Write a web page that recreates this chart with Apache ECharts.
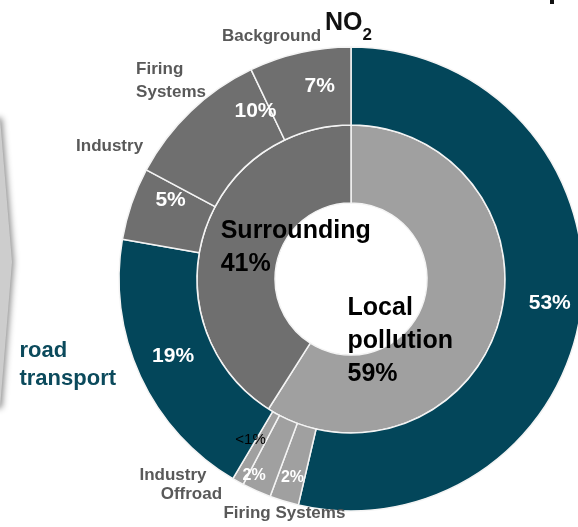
<!DOCTYPE html>
<html>
<head>
<meta charset="utf-8">
<script src="https://cdn.jsdelivr.net/npm/echarts@6/dist/echarts.min.js"></script>
<style>
  html, body { margin: 0; padding: 0; background: #ffffff; }
  #chart { width: 578px; height: 527px; }
</style>
</head>
<body>
<div id="chart"></div>
<script>
// NO2 source apportionment: local vs. surrounding pollution (inner ring)
const splitNames = ['Local\npollution', 'Surrounding'];
const splitValues = [59, 41];

// Individual sources, clockwise from 12 o'clock (outer ring)
const sourceNames = ['road\ntransport', 'Firing Systems', 'Offroad', 'Industry',
                     'road\ntransport', 'Industry', 'Firing\nSystems', 'Background'];
const sourceValues = [53, 2, 2, 0.8, 19, 5, 10, 7];
const sourceGroups = ['road', 'local', 'local', 'local', 'road', 'surr', 'surr', 'surr'];
const sourceNameShown = [false, true, true, true, true, true, true, true];

const TEAL = '#03465a';
const DARK = '#6f6f6f';
const LIGHT = '#a0a0a0';
const FONT = '"Liberation Sans", Arial, Helvetica, sans-serif';
const groupColor = { road: TEAL, local: LIGHT, surr: DARK };
const CENTER = [351, 279];

// label nudges (dx, dy) from the default in-sector anchor
const splitShift = [[-64, 29], [58, 2]];
const pctShift = [[4, 2], [-2, 11], [-17, 18], [-5, -10], [0, -5], [5, -15], [40, -26], [12, -2]];
const nameShift = [[0, 0], [11, -23], [-50, -30], [-47, -39], [-39, -27], [13, -45], [6, -4], [-20, 20]];

// wrap every line in a left-aligned rich style
function leftLines(text, style) {
  return text.split('\n').map(s => '{' + style + '|' + s + '}').join('\n');
}

const chart = echarts.init(document.getElementById('chart'));

const innerData = splitNames.map((n, i) => ({
  name: n,
  value: splitValues[i],
  itemStyle: { color: i === 0 ? LIGHT : DARK }
}));

const outerData = sourceNames.map((n, i) => ({
  name: n,
  value: sourceValues[i],
  itemStyle: { color: groupColor[sourceGroups[i]] }
}));

const nameData = sourceNames.map((n, i) => ({
  name: n,
  value: sourceValues[i],
  label: { show: sourceNameShown[i] }
}));

chart.setOption({
  animation: false,
  backgroundColor: '#ffffff',
  title: {
    text: '{n|NO}{s|2}',
    left: 325,
    top: 11,
    padding: 0,
    textStyle: {
      rich: {
        n: { fontFamily: FONT, fontWeight: 'bold', fontSize: 25, lineHeight: 30, color: '#111111', verticalAlign: 'top' },
        s: { fontFamily: FONT, fontWeight: 'bold', fontSize: 17, lineHeight: 33, color: '#111111', verticalAlign: 'bottom' }
      }
    }
  },
  graphic: [
    {
      // chevron at the left margin
      type: 'polygon',
      silent: true,
      shape: { points: [[-30, 118], [0, 118], [12, 262], [0, 408], [-30, 408]] },
      style: { fill: '#cdcdcd', shadowBlur: 6, shadowOffsetX: 2, shadowColor: 'rgba(0,0,0,0.45)' }
    },
    {
      type: 'rect',
      silent: true,
      shape: { x: 550, y: 0, width: 4, height: 4 },
      style: { fill: '#111111' }
    }
  ],
  series: [
    {
      type: 'pie',
      name: 'split',
      center: CENTER,
      radius: [76, 154],
      startAngle: 90,
      clockwise: true,
      silent: true,
      avoidLabelOverlap: false,
      itemStyle: { borderColor: '#f4f4f4', borderWidth: 1.5 },
      label: {
        show: true,
        position: 'inside',
        formatter: p => leftLines(p.name + '\n' + p.value + '%', 'l'),
        rich: {
          l: { align: 'left', fontFamily: FONT, fontWeight: 'bold', fontSize: 25, lineHeight: 33, color: '#000000' }
        }
      },
      labelLine: { show: false },
      labelLayout: p => ({ dx: splitShift[p.dataIndex][0], dy: splitShift[p.dataIndex][1] }),
      data: innerData
    },
    {
      type: 'pie',
      name: 'sources',
      center: CENTER,
      radius: [154, 232],
      startAngle: 90,
      clockwise: true,
      silent: true,
      avoidLabelOverlap: false,
      itemStyle: { borderColor: '#f4f4f4', borderWidth: 1.5 },
      label: {
        show: true,
        position: 'inside',
        formatter: p => {
          if (p.value < 1) return '{t|<1%}';
          if (p.value < 5) return '{s|' + p.value + '%}';
          return '{b|' + p.value + '%}';
        },
        rich: {
          b: { fontFamily: FONT, fontWeight: 'bold', fontSize: 21, color: '#ffffff' },
          s: { fontFamily: FONT, fontWeight: 'bold', fontSize: 16, color: '#ffffff' },
          t: { fontFamily: FONT, fontWeight: 'normal', fontSize: 15, color: '#000000' }
        }
      },
      labelLine: { show: false },
      labelLayout: p => ({ dx: pctShift[p.dataIndex][0], dy: pctShift[p.dataIndex][1] }),
      data: outerData
    },
    {
      type: 'pie',
      name: 'source names',
      center: CENTER,
      radius: [232, 300],
      startAngle: 90,
      clockwise: true,
      silent: true,
      avoidLabelOverlap: false,
      itemStyle: { color: 'rgba(0,0,0,0)', borderWidth: 0 },
      label: {
        show: true,
        position: 'inside',
        formatter: p => leftLines(p.name, sourceGroups[p.dataIndex] === 'road' ? 'r' : 'n'),
        rich: {
          n: { align: 'left', fontFamily: FONT, fontWeight: 'bold', fontSize: 17, lineHeight: 23, color: '#595959' },
          r: { align: 'left', fontFamily: FONT, fontWeight: 'bold', fontSize: 22, lineHeight: 28, color: '#0b4a5c' }
        }
      },
      labelLine: { show: false },
      labelLayout: p => ({ dx: nameShift[p.dataIndex][0], dy: nameShift[p.dataIndex][1] }),
      data: nameData
    }
  ]
});
</script>
</body>
</html>
